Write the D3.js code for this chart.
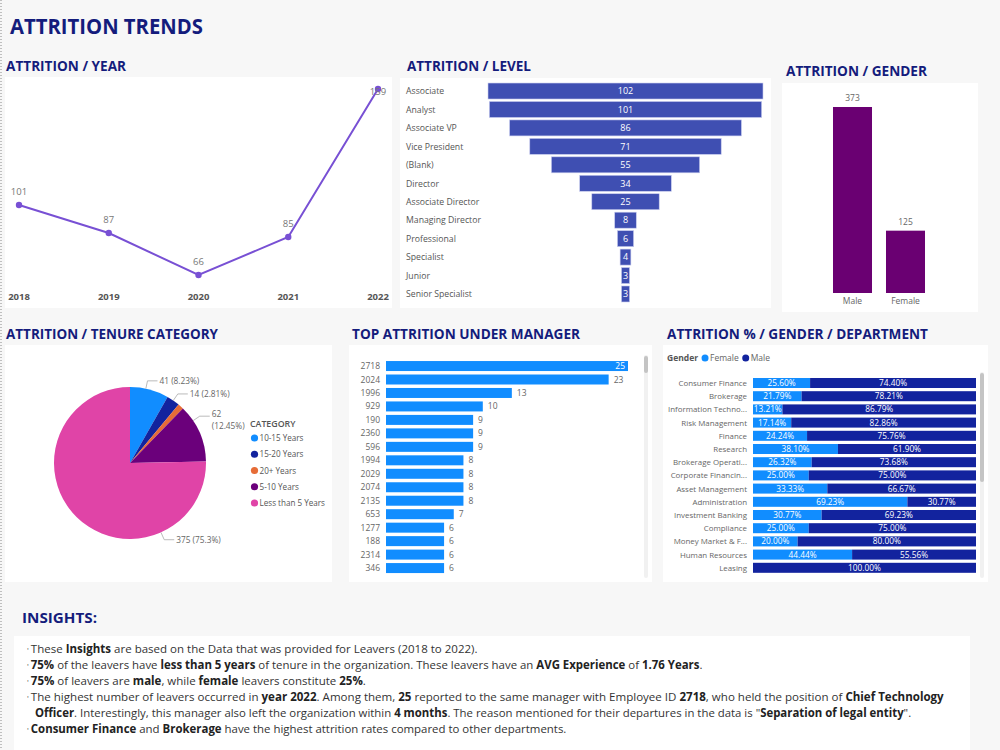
<!DOCTYPE html>
<html><head><meta charset="utf-8">
<script src="https://cdn.jsdelivr.net/npm/d3@7"></script>
<style>
html,body{margin:0;padding:0;background:#f7f7f7;}
svg{display:block;font-family:"Segoe UI","Open Sans","Noto Sans",sans-serif;}
</style></head>
<body><svg id="c" width="1000" height="750"></svg>
<script>
// ---------------- DATA ----------------
const years = ["2018","2019","2020","2021","2022"];
const yearValues = [101,87,66,85,159];

const levels = ["Associate","Analyst","Associate VP","Vice President","(Blank)","Director","Associate Director","Managing Director","Professional","Specialist","Junior","Senior Specialist"];
const levelValues = [102,101,86,71,55,34,25,8,6,4,3,3];

const genders = ["Male","Female"];
const genderValues = [373,125];

const tenureCategories = ["10-15 Years","15-20 Years","20+ Years","5-10 Years","Less than 5 Years"];
const tenureValues = [41,14,6,62,375];

const managers = ["2718","2024","1996","929","190","2360","596","1994","2029","2074","2135","653","1277","188","2314","346"];
const managerValues = [25,23,13,10,9,9,9,8,8,8,8,7,6,6,6,6];

const departments = ["Consumer Finance","Brokerage","Information Techno...","Risk Management","Finance","Research","Brokerage Operati...","Corporate Financin...","Asset Management","Administration","Investment Banking","Compliance","Money Market & F...","Human Resources","Leasing"];
const femalePct = [25.60,21.79,13.21,17.14,24.24,38.10,26.32,25.00,33.33,69.23,30.77,25.00,20.00,44.44,0];
const malePct   = [74.40,78.21,86.79,82.86,75.76,61.90,73.68,75.00,66.67,30.77,69.23,75.00,80.00,55.56,100.00];

const insightLines = [
  [["' ","b0"],["These ",""],["Insights","b"],[" are based on the Data that was provided for Leavers (2018 to 2022).",""]],
  [["' ","b0"],["75%","b"],[" of the leavers have ",""],["less than 5 years","b"],[" of tenure in the organization. These leavers have an ",""],["AVG Experience","b"],[" of ",""],["1.76 Years","b"],[".",""]],
  [["' ","b0"],["75%","b"],[" of leavers are ",""],["male","b"],[", while ",""],["female","b"],[" leavers constitute ",""],["25%","b"],[".",""]],
  [["' ","b0"],["The highest number of leavers occurred in ",""],["year 2022","b"],[". Among them, ",""],["25","b"],[" reported to the same manager with Employee ID ",""],["2718","b"],[", who held the position of ",""],["Chief Technology","b"]],
  [["Officer","b"],[". Interestingly, this manager also left the organization within ",""],["4 months","b"],[". The reason mentioned for their departures in the data is \"",""],["Separation of legal entity","b"],["\".",""]],
  [["' ","b0"],["Consumer Finance","b"],[" and ",""],["Brokerage","b"],[" have the highest attrition rates compared to other departments.",""]]
];

// ---------------- STYLE ----------------
const NAVY = "#141c7c";
const svg = d3.select("#c");
svg.append("rect").attr("width",1000).attr("height",750).attr("fill","#f7f7f7");
svg.append("line").attr("x1",1).attr("x2",1).attr("y1",0).attr("y2",750)
  .attr("stroke","#888").attr("stroke-dasharray","1,2").attr("stroke-width",1);

function panel(x,y,w,h){ svg.append("rect").attr("x",x).attr("y",y).attr("width",w).attr("height",h).attr("fill","#fff"); }
function title(txt,x,y,size,w){
  svg.append("text").attr("x",x).attr("y",y).text(txt).attr("fill",NAVY)
    .attr("font-weight",700).attr("font-size",size)
    .attr("textLength",w).attr("lengthAdjust","spacingAndGlyphs");
}

title("ATTRITION TRENDS",10,34,22,193);

// ---------------- YEAR LINE ----------------
panel(5,77,387,231);
title("ATTRITION / YEAR",6,71,14,120);
{
  const x = d3.scalePoint().domain(years).range([19,378]);
  const y = d3.scaleLinear().domain([66,159]).range([275,89]);
  const data = years.map((k,i)=>({k,v:yearValues[i]}));
  svg.append("path").datum(data)
    .attr("d",d3.line().x(d=>x(d.k)).y(d=>y(d.v)))
    .attr("fill","none").attr("stroke","#7850d4").attr("stroke-width",2);
  svg.selectAll(".yp").data(data).join("circle")
    .attr("cx",d=>x(d.k)).attr("cy",d=>y(d.v)).attr("r",3.2).attr("fill","#7850d4");
  svg.selectAll(".yl").data(data).join("text")
    .attr("x",d=>x(d.k)).attr("y",d=>Math.max(y(d.v)-10,95)).attr("text-anchor","middle")
    .attr("font-size",9.5).attr("fill","#777").text(d=>d.v);
  svg.selectAll(".yx").data(years).join("text")
    .attr("x",d=>x(d)).attr("y",300).attr("text-anchor","middle")
    .attr("font-size",9.5).attr("font-weight",700).attr("fill","#555").text(d=>d);
}

// ---------------- LEVEL FUNNEL ----------------
panel(400,78,371,230);
title("ATTRITION / LEVEL",407,71,14,124);
{
  const y = d3.scaleBand().domain(levels).range([81.8,303.2]).paddingInner(0.133).paddingOuter(0.066);
  const w = d3.scaleLinear().domain([0,d3.max(levelValues)]).range([0,275]);
  const cx = 625.5;
  const data = levels.map((k,i)=>({k,v:levelValues[i]}));
  svg.selectAll(".lb").data(data).join("rect")
    .attr("x",d=>cx-w(d.v)/2).attr("y",d=>y(d.k)).attr("width",d=>w(d.v)).attr("height",y.bandwidth())
    .attr("fill","#3f4fb2").attr("stroke","#c9cdee").attr("stroke-width",0.6);
  svg.selectAll(".lv").data(data).join("text")
    .attr("x",cx).attr("y",d=>y(d.k)+y.bandwidth()/2+3.3).attr("text-anchor","middle")
    .attr("font-size",9).attr("fill","#fff").text(d=>d.v);
  svg.selectAll(".ll").data(data).join("text")
    .attr("x",406).attr("y",d=>y(d.k)+y.bandwidth()/2+3.3)
    .attr("font-size",8.7).attr("fill","#555").text(d=>d.k);
}

// ---------------- GENDER BAR ----------------
panel(782,83,196,229);
title("ATTRITION / GENDER",786,76,14,141);
{
  const x = d3.scaleBand().domain(genders).range([826,932]).paddingInner(0.264).paddingOuter(0.132);
  const y = d3.scaleLinear().domain([0,d3.max(genderValues)]).range([293,107]);
  const data = genders.map((k,i)=>({k,v:genderValues[i]}));
  svg.selectAll(".gb").data(data).join("rect")
    .attr("x",d=>x(d.k)).attr("y",d=>y(d.v)).attr("width",x.bandwidth()).attr("height",d=>293-y(d.v))
    .attr("fill","#6a0072");
  svg.selectAll(".gv").data(data).join("text")
    .attr("x",d=>x(d.k)+x.bandwidth()/2).attr("y",d=>y(d.v)-6).attr("text-anchor","middle")
    .attr("font-size",8.5).attr("fill","#666").text(d=>d.v);
  svg.selectAll(".gx").data(genders).join("text")
    .attr("x",d=>x(d)+x.bandwidth()/2).attr("y",304).attr("text-anchor","middle")
    .attr("font-size",8.5).attr("fill","#666").text(d=>d);
}

// ---------------- TENURE PIE ----------------
panel(5,345,327,237);
title("ATTRITION / TENURE CATEGORY",6,339,14,212);
{
  const colors = ["#118dff","#12239e","#e66c37","#6b007b","#e044a7"];
  const cx=130, cy=463, R=76;
  const total = d3.sum(tenureValues);
  const data = tenureCategories.map((k,i)=>({k,v:tenureValues[i],c:colors[i]}));
  const arcs = d3.pie().sort(null).value(d=>d.v)(data);
  const arc = d3.arc().innerRadius(0).outerRadius(R);
  const g = svg.append("g").attr("transform",`translate(${cx},${cy})`);
  g.selectAll("path").data(arcs).join("path").attr("d",arc).attr("fill",d=>d.data.c);
  const fmtPct = v => { let s = d3.format(".2f")(v*100); s = s.replace(/0+$/,"").replace(/\.$/,""); return s+"%"; };
  arcs.forEach(a=>{
    const span = a.endAngle-a.startAngle;
    if (a.data.v/total < 0.02) return;
    const ang = span > Math.PI ? a.startAngle+1.17 : a.startAngle+Math.min(span/2,0.21);
    const p1 = [R*Math.sin(ang), -R*Math.cos(ang)];
    const p2 = [(R+8)*Math.sin(ang), -(R+8)*Math.cos(ang)];
    const p3 = [p2[0]+10, p2[1]];
    g.append("path").attr("d",`M${p1}L${p2}L${p3}`).attr("fill","none").attr("stroke","#aaa").attr("stroke-width",0.8);
    const label = `${a.data.v} (${fmtPct(a.data.v/total)})`;
    const t = g.append("text").attr("x",p3[0]+2).attr("y",p3[1]+3).attr("font-size",8.3).attr("fill","#666").text(label);
    if (cx + p3[0] + 2 + t.node().getComputedTextLength() > 246) {
      t.text(null);
      t.append("tspan").attr("x",p3[0]+2).attr("y",p3[1]+1).text(`${a.data.v}`);
      t.append("tspan").attr("x",p3[0]+2).attr("y",p3[1]+13).text(`(${fmtPct(a.data.v/total)})`);
    }
  });
  svg.append("text").attr("x",250).attr("y",427).attr("font-size",8.8).attr("font-weight",600).attr("fill","#555").text("CATEGORY");
  const ly = d3.scalePoint().domain(tenureCategories).range([438,503]);
  svg.selectAll(".tl").data(data).join("circle").attr("cx",254.5).attr("cy",d=>ly(d.k)).attr("r",3.6).attr("fill",d=>d.c);
  svg.selectAll(".tt").data(data).join("text").attr("x",259.5).attr("y",d=>ly(d.k)+3.2).attr("font-size",8.1).attr("fill","#555").text(d=>d.k);
}

// ---------------- MANAGER BARS ----------------
panel(349,345,303,237);
title("TOP ATTRITION UNDER MANAGER",352,339,14,228);
{
  const y = d3.scaleBand().domain(managers).range([359.3,574.8]).paddingInner(0.258).paddingOuter(0.129);
  const x = d3.scaleLinear().domain([0,d3.max(managerValues)]).range([386,628]);
  const data = managers.map((k,i)=>({k,v:managerValues[i]}));
  svg.selectAll(".mb").data(data).join("rect")
    .attr("x",x(0)).attr("y",d=>y(d.k)).attr("width",d=>x(d.v)-x(0)).attr("height",y.bandwidth()).attr("fill","#118dff");
  const maxV = d3.max(managerValues);
  svg.selectAll(".mv").data(data).join("text")
    .attr("x",d=>d.v===maxV ? x(d.v)-3 : x(d.v)+5)
    .attr("text-anchor",d=>d.v===maxV?"end":"start")
    .attr("y",d=>y(d.k)+y.bandwidth()/2+3)
    .attr("font-size",8.5).attr("fill",d=>d.v===maxV?"#fff":"#666").text(d=>d.v);
  svg.selectAll(".ml").data(data).join("text")
    .attr("x",380).attr("y",d=>y(d.k)+y.bandwidth()/2+3).attr("text-anchor","end")
    .attr("font-size",8.5).attr("fill","#666").text(d=>d.k);
  svg.append("rect").attr("x",644).attr("y",355).attr("width",4).attr("height",223).attr("rx",2).attr("fill","#f1f1f1");
  svg.append("rect").attr("x",644).attr("y",356).attr("width",4).attr("height",17).attr("rx",2).attr("fill","#c4c4c4");
}

// ---------------- DEPARTMENT 100% STACK ----------------
panel(663,345,325,237);
title("ATTRITION % / GENDER / DEPARTMENT",667,339,14,261);
{
  const y = d3.scaleBand().domain(departments).range([376.4,574.4]).paddingInner(0.242).paddingOuter(0.121);
  const x = d3.scaleLinear().domain([0,100]).range([753,976]);
  const data = departments.map((k,i)=>({k,f:femalePct[i],m:malePct[i]}));
  const fmt = d3.format(".2f");
  const rows = svg.selectAll(".dr").data(data).join("g");
  rows.append("rect").attr("x",x(0)).attr("y",d=>y(d.k)).attr("width",d=>x(d.f)-x(0)).attr("height",y.bandwidth()).attr("fill","#118dff");
  rows.append("rect").attr("x",d=>x(d.f)).attr("y",d=>y(d.k)).attr("width",d=>x(d.f+d.m)-x(d.f)).attr("height",y.bandwidth()).attr("fill","#12239e");
  rows.filter(d=>d.f>0).append("text").attr("x",d=>(x(0)+x(d.f))/2).attr("y",d=>y(d.k)+y.bandwidth()/2+3)
    .attr("text-anchor","middle").attr("font-size",8.3).attr("fill","#fff").text(d=>fmt(d.f)+"%");
  rows.append("text").attr("x",d=>(x(d.f)+x(d.f+d.m))/2).attr("y",d=>y(d.k)+y.bandwidth()/2+3)
    .attr("text-anchor","middle").attr("font-size",8.3).attr("fill","#fff").text(d=>fmt(d.m)+"%");
  rows.append("text").attr("x",747).attr("y",d=>y(d.k)+y.bandwidth()/2+3).attr("text-anchor","end")
    .attr("font-size",7.9).attr("fill","#666").text(d=>d.k);
  // legend
  const lg = svg.append("text").attr("x",667).attr("y",361).attr("font-size",8.5).attr("font-weight",700).attr("fill","#555").text("Gender");
  let lx = 667 + lg.node().getComputedTextLength() + 7;
  [["Female","#118dff"],["Male","#12239e"]].forEach(([nm,col])=>{
    svg.append("circle").attr("cx",lx).attr("cy",358).attr("r",3.5).attr("fill",col);
    const t = svg.append("text").attr("x",lx+5).attr("y",361).attr("font-size",8.5).attr("fill","#666").text(nm);
    lx += 5 + t.node().getComputedTextLength() + 7;
  });
  svg.append("rect").attr("x",980).attr("y",372).attr("width",4).attr("height",206).attr("rx",2).attr("fill","#f1f1f1");
  svg.append("rect").attr("x",980).attr("y",373).attr("width",4).attr("height",109).attr("rx",2).attr("fill","#c4c4c4");
}

// ---------------- INSIGHTS ----------------
title("INSIGHTS:",22,623,15,75);
panel(14,636,956,114);
{
  const starts = [27,27,27,27,35,27];
  const ends = [478,703,366,945,912,567];
  insightLines.forEach((runs,i)=>{
    const g = svg.append("g");
    const t = g.append("text").attr("x",0).attr("y",0).attr("font-size",11.5).attr("fill","#333");
    runs.forEach(([s,st])=>{
      const ts = t.append("tspan").text(s);
      if (st==="b") ts.attr("font-weight",700).attr("fill","#222");
      if (st==="b0") ts.attr("font-size",8).attr("fill","#555");
    });
    const w = t.node().getComputedTextLength();
    const sc = (ends[i]-starts[i])/w;
    g.attr("transform",`translate(${starts[i]},${653+16*i}) scale(${sc},1)`);
  });
}
</script></body></html>
